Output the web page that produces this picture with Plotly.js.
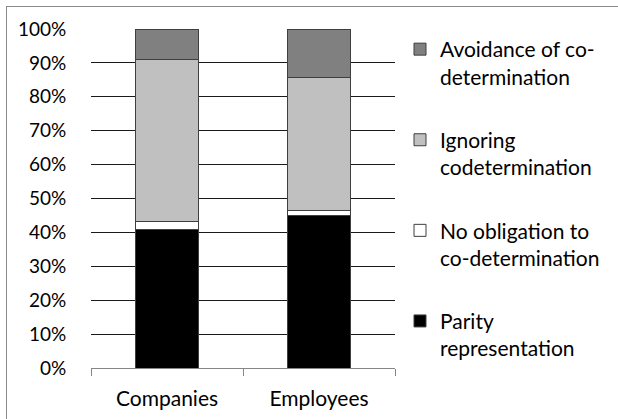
<!DOCTYPE html>
<html>
<head>
<meta charset="utf-8">
<script src="https://cdn.plot.ly/plotly-3.0.1.min.js"></script>
<style>
html,body{margin:0;padding:0;background:#fff;}
#wrap{position:relative;width:618px;height:419px;overflow:hidden;}
#frame{position:absolute;left:6px;top:6px;width:640px;height:440px;border-left:1px solid #8a8a8a;border-top:1px solid #8a8a8a;pointer-events:none;}
#chart{position:absolute;left:0;top:0;width:618px;height:419px;}
</style>
</head>
<body>
<div id="wrap"><div id="chart"></div><div id="frame"></div></div>
<script>
const categories = ["Companies", "Employees"];
const parity = [0.409, 0.450];
const noObligation = [0.023, 0.015];
const ignoring = [0.478, 0.392];
const avoidance = [0.090, 0.143];
const seriesNames = ["Parity<br>representation", "No obligation to<br>co-determination", "Ignoring<br>codetermination", "Avoidance of co-<br>determination"];
const seriesColors = ["#000000", "#ffffff", "#c0c0c0", "#808080"];
const seriesValues = [parity, noObligation, ignoring, avoidance];

const font = "Lato, 'Open Sans', sans-serif";
const traces = seriesValues.map((v, i) => ({
  type: "bar",
  x: categories,
  y: v,
  name: seriesNames[i],
  legendgroup: "g" + i,
  legendrank: 1000 - i,
  marker: {color: seriesColors[i], line: {color: "#3f3f3f", width: 1}},
  hoverinfo: "skip"
}));

const layout = {
  width: 618, height: 419,
  margin: {l: 91, r: 223, t: 29, b: 51},
  barmode: "stack",
  bargap: 0.59,
  paper_bgcolor: "#ffffff",
  plot_bgcolor: "#ffffff",
  font: {family: font, size: 21, color: "#000"},
  xaxis: {
    type: "category",
    showline: true, linecolor: "#868686", linewidth: 1,
    ticks: "outside", ticklen: 7, tickcolor: "#868686", tickson: "boundaries",
    ticklabelstandoff: 12,
    showgrid: false, zeroline: false,
    tickfont: {family: font, size: 21, color: "#000"}
  },
  yaxis: {
    range: [0, 1], dtick: 0.1, tickformat: ".0%",
    showgrid: true, gridcolor: "#1a1a1a", gridwidth: 1,
    zeroline: false, showline: false,
    ticks: "outside", ticklen: 20, tickcolor: "rgba(0,0,0,0)",
    tickfont: {family: font, size: 19, color: "#000"}
  },
  legend: {
    x: 1 + 5 / 304, xanchor: "left", xref: "paper",
    y: 1, yanchor: "top",
    traceorder: "grouped",
    tracegroupgap: 33,
    valign: "top",
    itemwidth: 30,
    font: {family: font, size: 21, color: "#000"},
    bgcolor: "rgba(0,0,0,0)"
  },
  showlegend: true
};

Plotly.newPlot("chart", traces, layout, {displayModeBar: false, staticPlot: true});
</script>
</body>
</html>
